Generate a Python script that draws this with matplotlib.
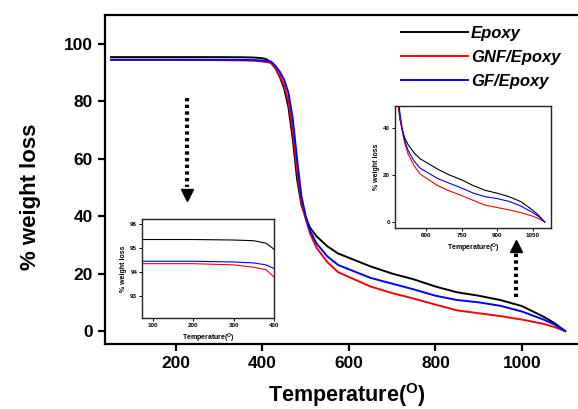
import matplotlib
matplotlib.use("Agg")
import matplotlib.pyplot as plt

plt.rcParams['font.family'] = ['Liberation Sans', 'DejaVu Sans']
plt.rcParams['mathtext.fontset'] = 'custom'
plt.rcParams['mathtext.rm'] = 'Liberation Sans'
plt.rcParams['mathtext.bf'] = 'Liberation Sans:bold'

# ---- data ----
temperature = [50, 100, 200, 300, 350, 380, 400, 410, 420, 430, 440, 450, 460, 470,
               480, 490, 500, 510, 525, 550, 575, 600, 650, 700, 750, 800, 850,
               900, 950, 1000, 1050, 1075, 1100]
epoxy = [95.35, 95.35, 95.35, 95.33, 95.3, 95.2, 94.95, 94.6, 93.3, 91.5, 88.5, 84.5, 78, 67,
         53, 44, 39.5, 36, 33, 29.5, 27, 25.5, 22.5, 20, 18, 15.5, 13.5,
         12.3, 10.8, 8.7, 5, 2.8, 0]
gnf_epoxy = [94.35, 94.35, 94.35, 94.3, 94.2, 94.1, 93.8, 93.6, 93.3, 91.5, 89, 85.5, 80, 70,
             56, 45, 39, 34, 29, 24, 20.5, 18.8, 15.5, 13.2, 11.3, 9.2, 7.2,
             6.2, 5.2, 4, 2.5, 1.4, 0]
gf_epoxy = [94.45, 94.45, 94.45, 94.42, 94.38, 94.3, 94.15, 94.0, 93.8, 92.3, 90.3, 87.5, 83, 74,
            60, 47, 40, 35, 30.5, 26, 23, 21.5, 18.5, 16.5, 14.5, 12.3, 10.8,
            10, 8.8, 6.8, 4, 2.3, 0]
series_names = ['Epoxy', 'GNF/Epoxy', 'GF/Epoxy']
series_colors = ['#000000', '#ff0000', '#0000ff']
main_xticks = [200, 400, 600, 800, 1000]
main_yticks = [0, 20, 40, 60, 80, 100]
inset1_xticks = [100, 200, 300, 400]
inset1_yticks = [93, 94, 95, 96]
inset2_xticks = [600, 750, 900, 1050]
inset2_yticks = [0, 20, 40]

series = [epoxy, gnf_epoxy, gf_epoxy]

W, H = 578, 409
fig = plt.figure(figsize=(W / 100, H / 100), dpi=100)

# ---- main axes ----
ax = fig.add_axes([105 / W, (H - 344) / H, 0.8336, 329 / H])
for vals, name, c in zip(series, series_names, series_colors):
    ax.plot(temperature, vals, color=c, lw=1.4, label=name)
ax.set_xlim(36, 1150)
ax.set_ylim(-4.5, 110)
ax.set_xticks(main_xticks)
ax.set_yticks(main_yticks)
for s in ax.spines.values():
    s.set_linewidth(1.6)
ax.tick_params(direction='out', length=5, width=1.6, labelsize=12.5, pad=4)
for lab in ax.get_xticklabels() + ax.get_yticklabels():
    lab.set_fontweight('bold')
ax.set_ylabel('% weight loss', fontsize=16, fontweight='bold')
ax.yaxis.set_label_coords(41 / W, 1 - 197 / H, transform=fig.transFigure)
ax.set_xlabel(r'Temperature($\mathbf{^{O}}$)', fontsize=15.5, fontweight='bold')
ax.xaxis.set_label_coords(347 / W, 1 - 381 / H, transform=fig.transFigure)

leg = ax.legend(loc='upper left', bbox_to_anchor=(401 / W, 1 - 26 / H),
                bbox_transform=fig.transFigure, frameon=False, borderpad=0,
                borderaxespad=0, handlelength=4.0, handletextpad=0.2,
                labelspacing=0.55,
                prop={'size': 12, 'weight': 'bold', 'style': 'italic'})

# dotted arrows
ax.plot([225, 225], [81, 50], color='black', lw=3, linestyle=(0, (0.8, 0.8)))
ax.plot([225], [47.5], marker='v', color='black', markersize=8, linestyle='none')
ax.plot([986, 986], [11.8, 27], color='black', lw=3, linestyle=(0, (0.8, 0.8)))
ax.plot([986], [29.5], marker='^', color='black', markersize=8, linestyle='none')

# ---- inset 1 ----
ins1 = fig.add_axes([142 / W, (H - 318) / H, 132 / W, 99 / H])
for vals, c in zip(series, series_colors):
    ins1.plot(temperature, vals, color=c, lw=0.8)
ins1.set_xlim(73, 400)
ins1.set_ylim(92.1, 96.2)
ins1.set_xticks(inset1_xticks)
ins1.set_yticks(inset1_yticks)

# ---- inset 2 ----
ins2 = fig.add_axes([395 / W, (H - 228) / H, 156 / W, 122 / H])
for vals, c in zip(series, series_colors):
    ins2.plot(temperature, vals, color=c, lw=0.8)
ins2.set_xlim(470, 1126)
ins2.set_ylim(-2.5, 49.4)
ins2.set_xticks(inset2_xticks)
ins2.set_yticks(inset2_yticks)

for a in (ins1, ins2):
    for s in a.spines.values():
        s.set_linewidth(1.0)
        s.set_color('#222222')
    a.tick_params(direction='out', length=2, width=0.7, labelsize=4.5, pad=1.5)
    for lab in a.get_xticklabels() + a.get_yticklabels():
        lab.set_fontweight('bold')
    a.set_ylabel('% weight loss', fontsize=5, fontweight='bold', labelpad=2)
    a.set_xlabel(r'Temperature($\mathbf{^{O}}$)', fontsize=5, fontweight='bold', labelpad=3)

fig.savefig('out.png', dpi=100)
